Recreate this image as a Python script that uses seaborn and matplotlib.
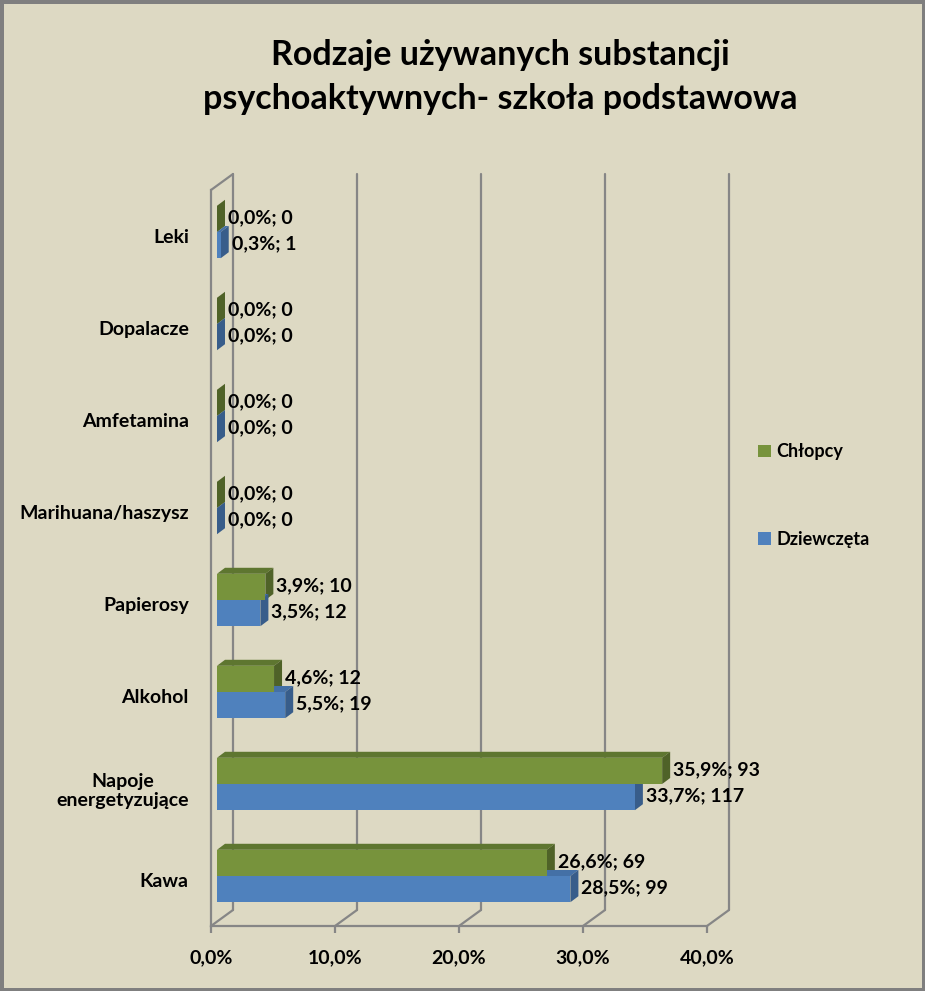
import numpy as np
import pandas as pd
import matplotlib
matplotlib.use("Agg")
import matplotlib.pyplot as plt
import seaborn as sns
from matplotlib.patches import Polygon
from matplotlib.lines import Line2D
from matplotlib.transforms import offset_copy

# ------------------------------
# Data
# ------------------------------
categories = ["Leki", "Dopalacze", "Amfetamina", "Marihuana/haszysz",
              "Papierosy", "Alkohol", "Napoje\nenergetyzujące", "Kawa"]
groups = ["Chłopcy", "Dziewczęta"]
boys_pct = [0.0, 0.0, 0.0, 0.0, 3.9, 4.6, 35.9, 26.6]
boys_n = [0, 0, 0, 0, 10, 12, 93, 69]
girls_pct = [0.3, 0.0, 0.0, 0.0, 3.5, 5.5, 33.7, 28.5]
girls_n = [1, 0, 0, 0, 12, 19, 117, 99]
x_ticks = [0, 10, 20, 30, 40]

df = pd.DataFrame({
    "substancja": categories * 2,
    "grupa": [groups[0]] * len(categories) + [groups[1]] * len(categories),
    "procent": boys_pct + girls_pct,
    "liczba": boys_n + girls_n,
})
pct = {groups[0]: boys_pct, groups[1]: girls_pct}
cnt = {groups[0]: boys_n, groups[1]: girls_n}

# colours: front / side / top faces
front = {groups[0]: "#77933C", groups[1]: "#4F81BD"}
side = {groups[0]: "#4F6228", groups[1]: "#385D8A"}
top = {groups[0]: "#5E7630", groups[1]: "#4470A6"}
bg = "#DDD9C3"
grid_c = "#868686"

sns.set_theme(style="white")
plt.rcParams["font.family"] = ["Lato", "DejaVu Sans"]
plt.rcParams["font.weight"] = "bold"
for k in ["text.color", "axes.labelcolor", "xtick.color", "ytick.color"]:
    plt.rcParams[k] = "black"

fig = plt.figure(figsize=(9.25, 9.91), dpi=100)
fig.patch.set_facecolor(bg)
fig.patch.set_edgecolor("#7F7F7F")
fig.patch.set_linewidth(5)

ax = fig.add_axes([211 / 925, 1 - 926 / 991, 496 / 925, 736 / 991])
ax.set_facecolor("none")

sns.barplot(data=df, y="substancja", x="procent", hue="grupa",
            order=categories, hue_order=groups, palette=front,
            width=0.57, saturation=1, errorbar=None, linewidth=0,
            zorder=3, ax=ax)

ax.set_xlim(0, 40)
ax.set_ylim(len(categories) - 0.5, -0.5)

to_px = ax.transData.transform
to_data = ax.transData.inverted().transform


def back(x, y, dx, dy):
    px, py = to_px((x, y))
    return to_data((px + dx, py + dy))


# ------------------------------
# fake 3D: back wall gridlines and floor
# ------------------------------
GX, GY = 22, 16
y_bot, y_top = len(categories) - 0.5, -0.5
for t in x_ticks:
    p1 = back(t, y_bot, GX, GY)
    p2 = back(t, y_top, GX, GY)
    ax.add_line(Line2D([p1[0], p2[0]], [p1[1], p2[1]], color=grid_c,
                       lw=1.6, zorder=1, clip_on=False))
    ax.add_line(Line2D([t, p1[0]], [y_bot, p1[1]], color=grid_c,
                       lw=1.6, zorder=1, clip_on=False))
p = back(0, y_top, GX, GY)
ax.add_line(Line2D([0, p[0]], [y_top, p[1]], color=grid_c, lw=1.6,
                   zorder=1, clip_on=False))

# ------------------------------
# fake 3D: bars sit a little inside the floor, plus depth faces + labels
# ------------------------------
BX, BY = 6, 4       # bar front plane offset (pixels)
DX, DY = 8, 6       # bar depth (pixels)
bar_tr = offset_copy(ax.transData, fig=fig, x=BX, y=BY, units="dots")

for gi, cont in enumerate(ax.containers):
    g = groups[gi]
    for bar in cont:
        bar.set_transform(bar_tr)
        x0, y0 = bar.get_x(), bar.get_y()
        w, h = bar.get_width(), bar.get_height()
        x1 = x0 + w
        yt, yb = y0, y0 + h
        ci = int(round(y0 + h / 2))
        top_face = [(x0, yt), (x1, yt), back(x1, yt, DX, DY), back(x0, yt, DX, DY)]
        side_face = [(x1, yt), (x1, yb), back(x1, yb, DX, DY), back(x1, yt, DX, DY)]
        ax.add_patch(Polygon(top_face, closed=True, fc=top[g], ec="none",
                             transform=bar_tr, zorder=2 + gi * 0.1,
                             clip_on=False))
        ax.add_patch(Polygon(side_face, closed=True, fc=side[g], ec="none",
                             transform=bar_tr, zorder=2 + gi * 0.1,
                             clip_on=False))
        txt = f"{pct[g][ci]:.1f}%; {cnt[g][ci]}".replace(".", ",")
        ax.annotate(txt, xy=(x1, y0 + h / 2), xycoords=bar_tr,
                    xytext=(DX + 3, 1), textcoords="offset pixels",
                    ha="left", va="center", fontsize=14, fontweight="bold",
                    color="black", zorder=5, annotation_clip=False)

# ------------------------------
# axes styling
# ------------------------------
for s in ["top", "right"]:
    ax.spines[s].set_visible(False)
for s in ["left", "bottom"]:
    ax.spines[s].set_color(grid_c)
    ax.spines[s].set_linewidth(1.6)
    ax.spines[s].set_zorder(1)

ax.set_xticks(x_ticks)
ax.set_xticklabels([f"{t:.1f}%".replace(".", ",") for t in x_ticks])
ax.set_yticks(np.arange(-0.5, len(categories), 1), minor=True)
ax.tick_params(axis="y", which="major", length=0, pad=16, labelsize=14)
ax.tick_params(axis="y", which="minor", length=5, width=1.6, color=grid_c,
               direction="out")
ax.tick_params(axis="x", length=5, width=1.6, color=grid_c, direction="out",
               pad=12, labelsize=14, bottom=True)
for lab in ax.get_yticklabels():
    lab.set_multialignment("center")
    lab.set_fontweight("bold")
for lab in ax.get_xticklabels():
    lab.set_fontweight("bold")
ax.set_xlabel("")
ax.set_ylabel("")
ax.grid(False)

handles, labels = ax.get_legend_handles_labels()
ax.legend(handles, labels, loc="center left", bbox_to_anchor=(0.81, 0.5),
          bbox_transform=fig.transFigure, frameon=False,
          handlelength=0.7, handleheight=0.7, handletextpad=0.3,
          labelspacing=3.9, borderpad=0, prop={"weight": "bold", "size": 13})

fig.text(500 / 925, 1 - 77 / 991,
         "Rodzaje używanych substancji\npsychoaktywnych- szkoła podstawowa",
         ha="center", va="center", fontsize=24.5, fontweight="bold",
         linespacing=1.45, color="black")

fig.savefig("out.png", dpi=100, facecolor=fig.get_facecolor(),
            edgecolor=fig.get_edgecolor())
